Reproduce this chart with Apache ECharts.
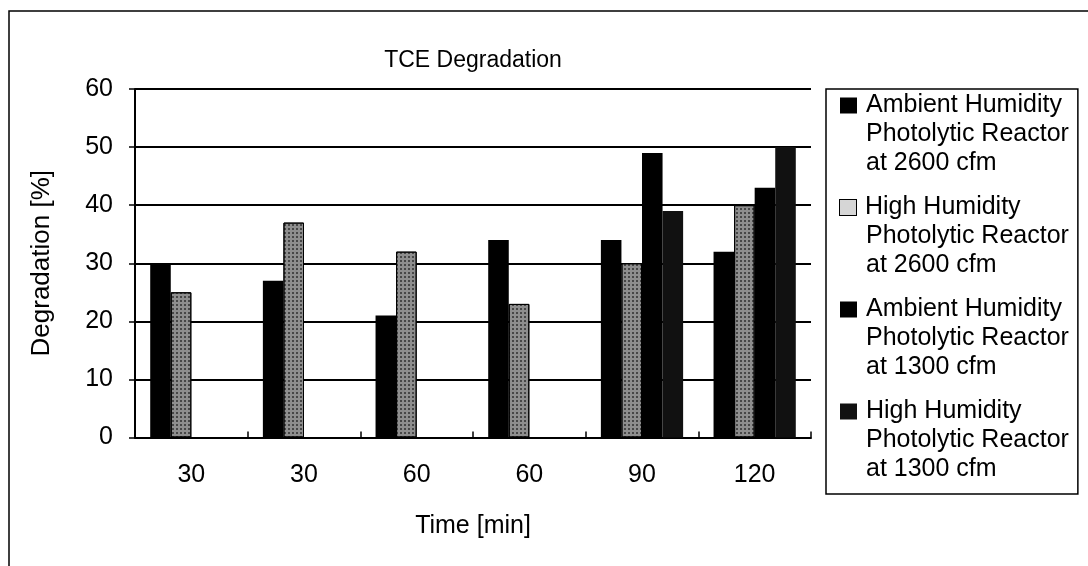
<!DOCTYPE html>
<html>
<head>
<meta charset="utf-8">
<title>TCE Degradation</title>
<script src="https://cdn.jsdelivr.net/npm/echarts@6/dist/echarts.min.js"></script>
<style>
    html, body { margin: 0; padding: 0; background: #fff; }
    #main { width: 1088px; height: 566px; }
</style>
</head>
<body>
<div id="main"></div>
<script>
// data
var categories = ['30', '30', '60', '60', '90', '120'];
var ambient2600 = [30, 27, 21, 34, 34, 32];
var high2600 = [25, 37, 32, 23, 30, 40];
var ambient1300 = [null, null, null, null, 49, 43];
var high1300 = [null, null, null, null, 39, 50];
var yMin = 0, yMax = 60, yStep = 10;

var seriesNames = [
    'Ambient Humidity\nPhotolytic Reactor\nat 2600 cfm',
    'High Humidity\nPhotolytic Reactor\nat 2600 cfm',
    'Ambient Humidity\nPhotolytic Reactor\nat 1300 cfm',
    'High Humidity\nPhotolytic Reactor\nat 1300 cfm'
];
var seriesData = [ambient2600, high2600, ambient1300, high1300];
var seriesColors = ['#000', '#8e8e8e', '#000', '#111'];

var FONT = '"Liberation Sans", Arial, sans-serif';

var myChart = echarts.init(document.getElementById('main'));

// speckled fill, like the scanned gray pattern
var stipple = {
    symbol: 'rect',
    symbolSize: 1,
    dashArrayX: [2, 2],
    dashArrayY: [2, 2],
    rotation: 0,
    color: 'rgba(0,0,0,0.5)'
};

var series = seriesData.map(function (d, i) {
    return {
        name: seriesNames[i],
        type: 'bar',
        data: d,
        barGap: '0%',
        barCategoryGap: '27%',
        itemStyle: {
            color: seriesColors[i],
            borderColor: '#000',
            borderWidth: i === 1 ? 1 : 0,
            decal: i === 1 ? stipple : null
        }
    };
});

var option = {
    animation: false,
    backgroundColor: '#fff',
    title: {
        text: 'TCE Degradation',
        left: 473,
        top: 49,
        textAlign: 'center',
        padding: 0,
        textStyle: { fontFamily: FONT, fontSize: 23, fontWeight: 'normal', color: '#000' }
    },
    graphic: [{
        type: 'rect',
        silent: true,
        shape: { x: 9, y: 11, width: 1100, height: 600 },
        style: { fill: 'none', stroke: '#000', lineWidth: 1.5 }
    }],
    legend: {
        orient: 'vertical',
        left: 826,
        top: 89,
        padding: [2, 9, 10, 9],
        itemGap: 15,
        itemWidth: 0,
        itemHeight: 29,
        icon: 'none',
        borderColor: '#000',
        borderWidth: 1.5,
        data: seriesNames,
        formatter: function (name) {
            var i = seriesNames.indexOf(name);
            var lines = name.split('\n');
            var out = '{ic' + i + '|}{g|}{t|' + lines[0] + '}';
            for (var k = 1; k < lines.length; k++) {
                out += '\n{sp|}{t|' + lines[k] + '}';
            }
            return out;
        },
        textStyle: {
            fontFamily: FONT,
            fontSize: 25,
            lineHeight: 29,
            color: '#000',
            rich: {
                t: { fontFamily: FONT, fontSize: 25, lineHeight: 29, color: '#000' },
                g: { width: 9 },
                sp: { width: 26 },
                ic0: { width: 17, height: 16, backgroundColor: '#000' },
                ic1: { width: 16, height: 15, backgroundColor: '#d6d6d6', borderColor: '#000', borderWidth: 1 },
                ic2: { width: 17, height: 16, backgroundColor: '#000' },
                ic3: { width: 17, height: 16, backgroundColor: '#111' }
            }
        }
    },
    grid: {
        left: 135,
        top: 89,
        width: 676,
        height: 348.5
    },
    xAxis: {
        type: 'category',
        data: categories,
        name: 'Time [min]',
        nameLocation: 'middle',
        nameGap: 76,
        nameTextStyle: { fontFamily: FONT, fontSize: 25, color: '#000' },
        axisLine: { lineStyle: { color: '#000', width: 2 } },
        axisTick: { show: true, inside: true, length: 6, interval: 0, lineStyle: { color: '#000', width: 1.5 } },
        axisLabel: { interval: 0, margin: 25, fontFamily: FONT, fontSize: 25, color: '#000' }
    },
    yAxis: {
        type: 'value',
        min: yMin,
        max: yMax,
        interval: yStep,
        name: 'Degradation [%]',
        nameLocation: 'middle',
        nameGap: 80,
        nameTextStyle: { fontFamily: FONT, fontSize: 26, color: '#000' },
        axisLine: { show: true, lineStyle: { color: '#000', width: 2 } },
        axisTick: { show: true, length: 6, lineStyle: { color: '#000', width: 1.5 } },
        axisLabel: { margin: 22, fontFamily: FONT, fontSize: 25, color: '#000' },
        splitLine: { show: true, lineStyle: { color: '#000', width: 1.8 } }
    },
    series: series
};

myChart.setOption(option);
</script>
</body>
</html>
